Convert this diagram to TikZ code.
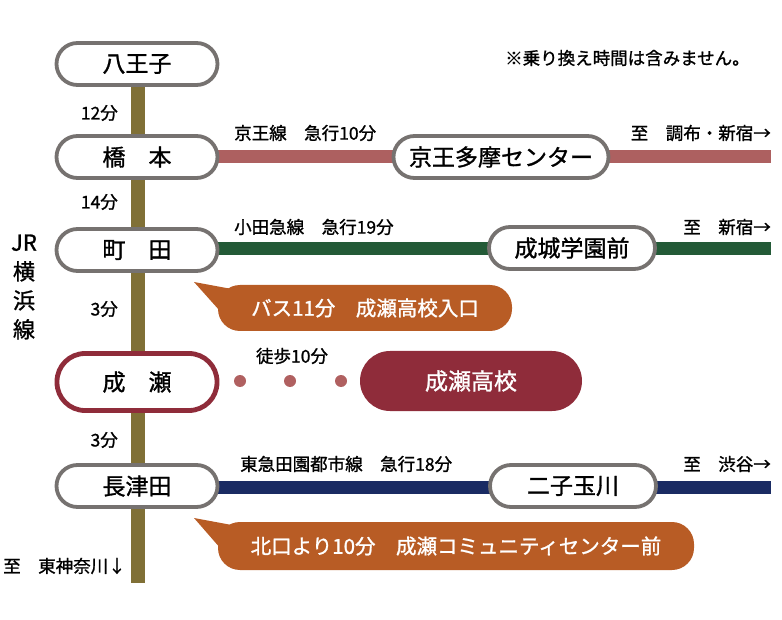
\documentclass[tikz,border=0pt]{standalone}
\usepackage{fontspec}
\setmainfont{Noto Sans CJK JP}[FakeBold=1.2]
\begin{document}
\begin{tikzpicture}[x=1pt,y=-1pt,
  station/.style={draw=stgray,line width=3.8pt,fill=white,rounded corners=21pt,minimum height=42pt,inner sep=0pt,font=\fontsize{23}{27}\selectfont},
  small/.style={font=\fontsize{17.5}{20}\selectfont,inner sep=0pt},
  bubble/.style={fill=busor,rounded corners=22pt,minimum height=46pt,inner sep=0pt,text=white,font=\fontsize{20.5}{24}\selectfont},
  rail/.style={line width=13pt}]
\definecolor{stgray}{RGB}{118,114,112}
\definecolor{jr}{RGB}{128,112,54}
\definecolor{keio}{RGB}{173,96,96}
\definecolor{oda}{RGB}{35,90,55}
\definecolor{tokyu}{RGB}{26,43,99}
\definecolor{busor}{RGB}{184,92,37}
\definecolor{naruse}{RGB}{143,44,58}
\definecolor{dot}{RGB}{176,96,96}
\useasboundingbox (0,0) rectangle (782,620);
% JR line
\coordinate (jrtop) at (138,64);
\coordinate (jrbot) at (138,583);
\draw[jr,line width=14pt] (jrtop) -- (jrbot);
% coordinates for private lines
\coordinate (keioend) at (771,157);
\coordinate (odaend) at (771,249);
\coordinate (tokyuend) at (771,487);
\draw[keio,rail] (138,157) -- (keioend);
\draw[oda,rail] (138,249) -- (odaend);
\draw[tokyu,rail] (138,487) -- (tokyuend);
% stations
\node[station,minimum width=161pt] (hachi) at (137,64) {八王子};
\node[station,minimum width=161pt] (hashi) at (137,157) {橋　本};
\node[station,minimum width=161pt] (machi) at (137,250) {町　田};
\node[station,minimum width=160pt,draw=naruse,line width=4.8pt,minimum height=57pt,rounded corners=28pt] (naru) at (137,382) {成　瀬};
\node[station,minimum width=161pt] (naga) at (137,486) {長津田};
\node[station,minimum width=215pt] (tama) at (501,157) {京王多摩センター};
\node[station,minimum width=166pt] (seijo) at (572,248) {成城学園前};
\node[station,minimum width=166pt] (futa) at (573,486) {二子玉川};
% JR labels
\node[small,anchor=east] (t1) at (118,113) {12分};
\node[small,anchor=east] (t2) at (118,202) {14分};
\node[small,anchor=east] (t3) at (118,309) {3分};
\node[small,anchor=east] (t4) at (118,440) {3分};
\node[font=\fontsize{22}{29}\selectfont,align=center,inner sep=0pt] (jrname) at (24,287) {JR\\横\\浜\\線};
\node[small,anchor=west] (higa) at (3,566) {至　東神奈川↓};
\node[small,anchor=west] (note) at (505,58) {※乗り換え時間は含みません。};
% line labels
\node[small,anchor=west] (kl) at (234,133) {京王線　急行10分};
\node[small,anchor=east] (kr) at (771,133) {至　調布・新宿→};
\node[small,anchor=west] (ol) at (234,227) {小田急線　急行19分};
\node[small,anchor=east] (or) at (771,227) {至　新宿→};
\node[small,anchor=west] (tl) at (240,464) {東急田園都市線　急行18分};
\node[small,anchor=east] (tr) at (771,464) {至　渋谷→};
% bus callouts
\fill[busor] (194,282) -- (248,292) -- (228,320) -- cycle;
\node[bubble,minimum width=294pt] (bus1) at (365,308) {バス11分　成瀬高校入口};
\fill[busor] (194,518) -- (248,528) -- (228,557) -- cycle;
\node[bubble,minimum width=476pt,minimum height=48pt] (bus2) at (456,546) {北口より10分　成瀬コミュニティセンター前};
% walk
\node[circle,fill=dot,minimum size=12pt,inner sep=0pt] (d1) at (240,381) {};
\node[circle,fill=dot,minimum size=12pt,inner sep=0pt] (d2) at (290,381) {};
\node[circle,fill=dot,minimum size=12pt,inner sep=0pt] (d3) at (341,381) {};
\node[small] (walk) at (292,356) {徒歩10分};
\node[fill=naruse,rounded corners=30pt,minimum width=222pt,minimum height=60pt,inner sep=0pt,text=white,font=\fontsize{23}{27}\selectfont] (school) at (471,381) {成瀬高校};
\end{tikzpicture}
\end{document}
